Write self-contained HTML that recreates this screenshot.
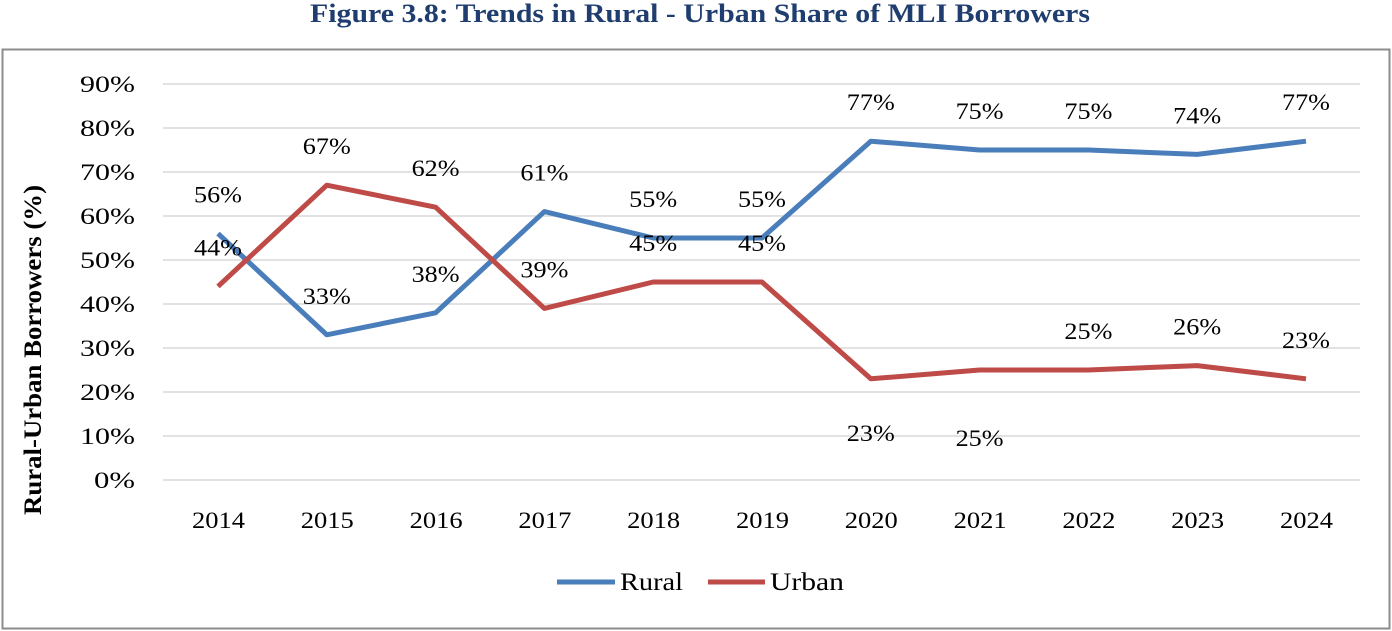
<!DOCTYPE html>
<html><head><meta charset="utf-8"><style>
body{margin:0;background:#fff;}
svg{display:block;font-family:"Liberation Serif",serif;}
</style></head><body>
<svg id="chart" width="1392" height="631" viewBox="0 0 1392 631">
<text x="700" y="22" text-anchor="middle" font-size="26" font-weight="bold" fill="#1f3d6e" textLength="780" lengthAdjust="spacingAndGlyphs">Figure 3.8: Trends in Rural - Urban Share of MLI Borrowers</text>
<rect x="2.5" y="49.5" width="1387" height="579" fill="none" stroke="#8c8c8c" stroke-width="2"/>
<g id="grid"></g><g id="yt"></g><g id="xt"></g><g id="lines"></g><g id="labels"></g>
<text transform="translate(41,350) rotate(-90)" text-anchor="middle" font-size="25" font-weight="bold" fill="#000" textLength="330" lengthAdjust="spacingAndGlyphs">Rural-Urban Borrowers (%)</text>
<g>
<line x1="557" y1="582" x2="615" y2="582" stroke="#4a7ebb" stroke-width="5"/>
<text x="620" y="590" font-size="25" textLength="63" lengthAdjust="spacingAndGlyphs">Rural</text>
<line x1="708" y1="582" x2="765" y2="582" stroke="#be4b48" stroke-width="5"/>
<text x="770" y="590" font-size="25" textLength="74" lengthAdjust="spacingAndGlyphs">Urban</text>
</g>
</svg>
<script>
const years=["2014","2015","2016","2017","2018","2019","2020","2021","2022","2023","2024"];
const rural=[56,33,38,61,55,55,77,75,75,74,77];
const urban=[44,67,62,39,45,45,23,25,25,26,23];
const urbanLabelBelow=[false,false,false,false,false,false,true,true,false,false,false];
const yTicks=[0,10,20,30,40,50,60,70,80,90];
const NS="http://www.w3.org/2000/svg";
function x(i){return 218+i*108.8;}
function y(v){return 480-v*4.4;}
function mk(tag,attrs,parent,txt){const e=document.createElementNS(NS,tag);for(const k in attrs)e.setAttribute(k,attrs[k]);if(txt!==undefined)e.textContent=txt;document.getElementById(parent).appendChild(e);return e;}
yTicks.forEach(t=>{
 const g=mk('line',{x1:163,x2:1360,y1:y(t),y2:y(t),stroke:'#d9d9d9','stroke-width':1.5},'grid');
 
 
 const l=mk('text',{x:135,y:y(t)+8,'text-anchor':'end','font-size':23,textLength:(t===0?41:55),lengthAdjust:'spacingAndGlyphs'},'yt',t+'%');
 
 
});
years.forEach((yr,i)=>{
 const l=mk('text',{x:x(i)-26,y:528,'font-size':23,textLength:53,lengthAdjust:'spacingAndGlyphs'},'xt',yr);
 
 
});
function series(vals,color,name){
 const p=mk('polyline',{points:vals.map((v,i)=>x(i)+','+y(v)).join(' '),fill:'none',stroke:color,'stroke-width':5,'stroke-linejoin':'round'},'lines');
 
 
}
series(rural,'#4a7ebb','rural-line');
series(urban,'#be4b48','urban-line');
function lbl(v,i,dy,name){
 const t=mk('text',{x:x(i)-24,y:y(v)+dy,'font-size':23,textLength:48,lengthAdjust:'spacingAndGlyphs'},'labels',v+'%');
 
 
}
rural.forEach((v,i)=>lbl(v,i,-31,'rural-data-label'));
urban.forEach((v,i)=>lbl(v,i,urbanLabelBelow[i]?(i===6?62:76):-31,'urban-data-label'));
</script>
</body></html>
